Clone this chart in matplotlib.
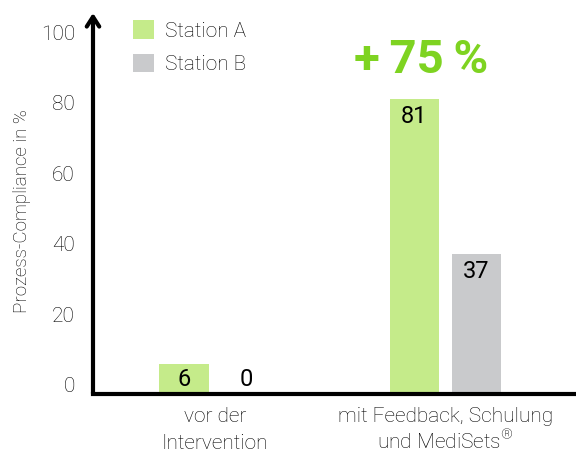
import matplotlib
matplotlib.use("Agg")
import matplotlib.pyplot as plt
import matplotlib.transforms as mtransforms
import numpy as np

categories = ["vor der\nIntervention", "mit Feedback, Schulung\nund MediSets$^{\\mathregular{\u00ae}}$"]
series_names = ["Station A", "Station B"]
station_a = [6, 81]
station_b = [0, 37]
yticks = [0, 20, 40, 60, 80, 100]
headline = "+\u200975\u2009%"

GREEN = "#c5eb8a"
GRAY = "#c9cacc"
HEAD = "#7ed321"
TXT = "#000000"

plt.rcParams['font.family'] = ['Roboto', 'DejaVu Sans']
plt.rcParams['mathtext.fontset'] = 'custom'
plt.rcParams['mathtext.rm'] = 'Roboto:light'

fig = plt.figure(figsize=(5.76, 4.53), dpi=100)
ax = fig.add_axes([93/576, 1-393.5/453, (576-93)/576, (393.5-13)/453])

base = -2.5
x = np.arange(len(categories))
off = 0.135
w = 0.213


def heights(vals):
    v = np.array(vals, dtype=float)
    return np.where(v > 0, v - base, 0.0)


ax.bar(x - off, heights(station_a), bottom=base, width=w, color=GREEN, label=series_names[0])
ax.bar(x + off, heights(station_b), bottom=base, width=w, color=GRAY, label=series_names[1])

for xs, vals in ((x - off, station_a), (x + off, station_b)):
    for xi, v in zip(xs, vals):
        if v > 10:
            ax.text(xi, v - 1.5, str(v), ha="center", va="top", fontsize=17, color="black")
        else:
            ax.text(xi, -0.4, str(v), ha="center", va="baseline", fontsize=17, color="black")

ax.set_xlim(-0.53, 1.567)
ax.set_ylim(base, 105.5)
ax.set_yticks(yticks)
ax.set_yticklabels([str(t) for t in yticks], fontsize=15, fontweight="light", color=TXT)
ax.set_xticks([])
ax.tick_params(axis="y", length=0, pad=13)

# category labels, one text per line so each line is laid out independently
xtrans = ax.get_xaxis_transform()
for xi, cat in zip(x, categories):
    for k, line in enumerate(cat.split("\n")):
        tr = mtransforms.offset_copy(xtrans, fig=fig, x=0, y=-(28.5 + 27 * k), units="dots")
        ax.text(xi, 0, line, transform=tr, ha="center", va="baseline", fontsize=15,
                fontweight="light", color=TXT, clip_on=False)

for s in ["top", "right", "left"]:
    ax.spines[s].set_visible(False)
ax.spines["bottom"].set_linewidth(3)

# y-axis arrow
ax.annotate("", xy=(0, 1.0), xytext=(0, 0), xycoords="axes fraction",
            arrowprops=dict(arrowstyle="->,head_width=0.45,head_length=0.7", lw=3, color="black",
                            shrinkA=0, shrinkB=0))

ax.set_ylabel("Prozess-Compliance in %", fontsize=13.5, fontweight="light", color=TXT)
ax.yaxis.set_label_coords(-0.128, 0.48)

leg = ax.legend(loc="upper left", bbox_to_anchor=(0.045, 1.03), frameon=False, fontsize=15,
                handlelength=1.0, handleheight=1.0, handletextpad=0.5, labelspacing=0.62)
for t in leg.get_texts():
    t.set_fontweight("light")
    t.set_color(TXT)

ax.text(1 - off + 0.03, 86.0, headline, ha="center", va="bottom", fontsize=34,
        fontweight="bold", color=HEAD)

fig.savefig("out.png", dpi=100)
